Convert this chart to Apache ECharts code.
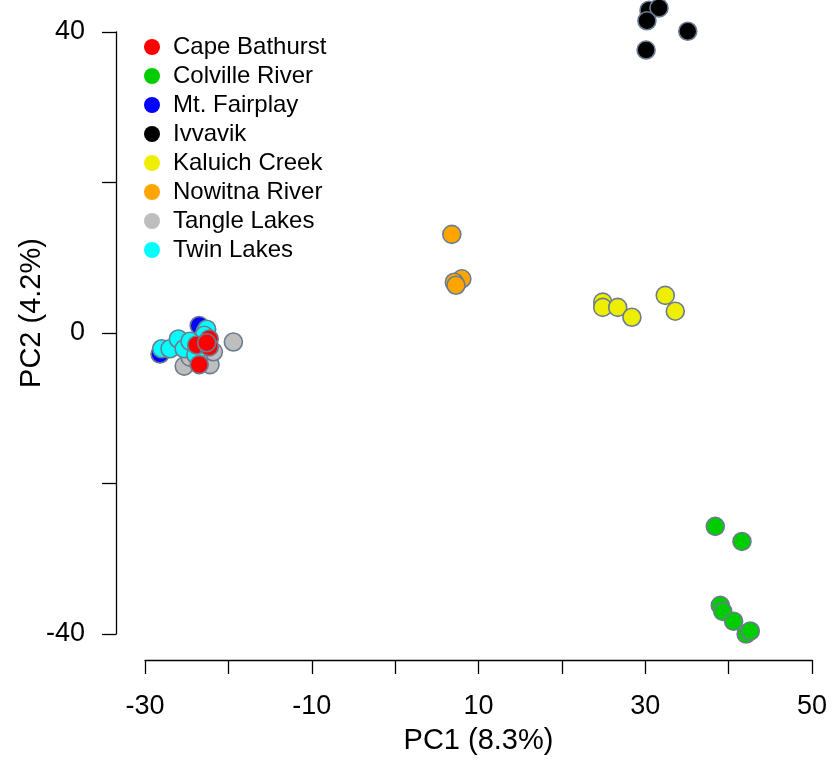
<!DOCTYPE html>
<html>
<head>
<meta charset="utf-8">
<script src="https://cdn.jsdelivr.net/npm/echarts@6/dist/echarts.min.js"></script>
<style>html,body{margin:0;padding:0;background:#fff}#c{width:840px;height:760px}</style>
</head>
<body>
<div id="c"></div>
<script>
// Group names (legend order) and colours
const groupNames = ['Cape Bathurst','Colville River','Mt. Fairplay','Ivvavik','Kaluich Creek','Nowitna River','Tangle Lakes','Twin Lakes'];
const groupColors = ['#ff0000','#00cd00','#0000ff','#000000','#eeee00','#ffa500','#bebebe','#00ffff'];

// PC1 / PC2 scores per group, [PC1, PC2]
const capeBathurst = [[-22.3,-0.8],[-23.8,-1.6],[-22.3,-1.85],[-23.5,-4.2],[-22.6,-1.3]];
const colvilleRiver = [[38.4,-25.7],[41.6,-27.7],[39.0,-36.2],[39.3,-37.0],[40.6,-38.3],[42.1,-40.0],[42.6,-39.6]];
const mtFairplay = [[-23.5,1.0],[-28.2,-2.8],[-22.8,0.1]];
const ivvavik = [[30.45,42.9],[31.65,43.2],[30.2,41.5],[35.1,40.1],[30.1,37.6]];
const kaluichCreek = [[24.9,4.1],[24.9,3.4],[26.7,3.4],[28.4,2.1],[32.4,5.0],[33.6,2.9]];
const nowitnaRiver = [[6.8,13.1],[8.0,7.2],[7.1,6.75],[7.3,6.35]];
const tangleLakes = [[-19.4,-1.2],[-25.3,-4.4],[-22.2,-4.2],[-21.8,-2.5],[-23.6,-3.4],[-24.6,-3.2]];
const twinLakes = [[-28.0,-2.1],[-27.0,-2.1],[-26.0,-0.8],[-25.3,-2.1],[-22.6,0.5],[-22.9,-0.3],[-23.9,-2.9],[-24.6,-1.1]];

// Axis ticks
const xTicks = [-30,-20,-10,0,10,20,30,40,50];
const xTickLabels = [-30,-10,10,30,50];
const yTicks = [-40,-20,0,20,40];
const yTickLabels = [-40,0,40];

const groupData = [capeBathurst,colvilleRiver,mtFairplay,ivvavik,kaluichCreek,nowitnaRiver,tangleLakes,twinLakes];
// drawing order (bottom to top)
const drawOrder = [6,2,7,0,1,3,4,5];

const FONT = "'Liberation Sans', Arial, Helvetica, sans-serif";
const chart = echarts.init(document.getElementById('c'));

const series = drawOrder.map(i => ({
  name: groupNames[i],
  type: 'scatter',
  data: groupData[i],
  symbol: 'circle',
  symbolSize: 18,
  clip: false,
  itemStyle: { color: groupColors[i], borderColor: '#6c7c90', borderWidth: 1.6, opacity: 1 },
  emphasis: { disabled: true }
}));

chart.setOption({
  animation: false,
  backgroundColor: '#ffffff',
  textStyle: { fontFamily: FONT },
  grid: { left: 145, right: 28, top: 32, bottom: 124, containLabel: false },
  legend: {
    orient: 'vertical',
    left: 139,
    top: 30,
    data: groupNames,
    icon: 'circle',
    itemWidth: 32,
    itemHeight: 16,
    itemGap: 5,
    selectedMode: false,
    itemStyle: { borderWidth: 0 },
    textStyle: { fontFamily: FONT, fontSize: 24, color: '#000', lineHeight: 24 }
  },
  xAxis: {
    type: 'value',
    min: -30, max: 50, interval: 10,
    offset: 26,
    name: 'PC1 (8.3%)',
    nameLocation: 'middle',
    nameGap: 66,
    nameMoveOverlap: false,
    nameTextStyle: { fontFamily: FONT, fontSize: 29, color: '#000' },
    axisLine: { show: true, onZero: false, lineStyle: { color: '#000', width: 1.3 } },
    axisTick: { show: true, length: 14, lineStyle: { color: '#000', width: 1.3 } },
    axisLabel: {
      fontFamily: FONT, fontSize: 27, color: '#000', margin: 33,
      formatter: v => xTickLabels.indexOf(Math.round(v)) >= 0 ? String(Math.round(v)) : ''
    },
    splitLine: { show: false }
  },
  yAxis: {
    type: 'value',
    min: -40, max: 40, interval: 20,
    offset: 29,
    name: 'PC2 (4.2%)',
    nameLocation: 'middle',
    nameGap: 70,
    nameMoveOverlap: false,
    nameTextStyle: { fontFamily: FONT, fontSize: 29, color: '#000', padding: [0,0,0,40] },
    axisLine: { show: true, onZero: false, lineStyle: { color: '#000', width: 1.3 } },
    axisTick: { show: true, length: 14, lineStyle: { color: '#000', width: 1.3 } },
    axisLabel: {
      fontFamily: FONT, fontSize: 27, color: '#000', margin: 31,
      formatter: v => yTickLabels.indexOf(Math.round(v)) >= 0 ? String(Math.round(v)) : ''
    },
    splitLine: { show: false }
  },
  series: series
});
</script>
</body>
</html>
